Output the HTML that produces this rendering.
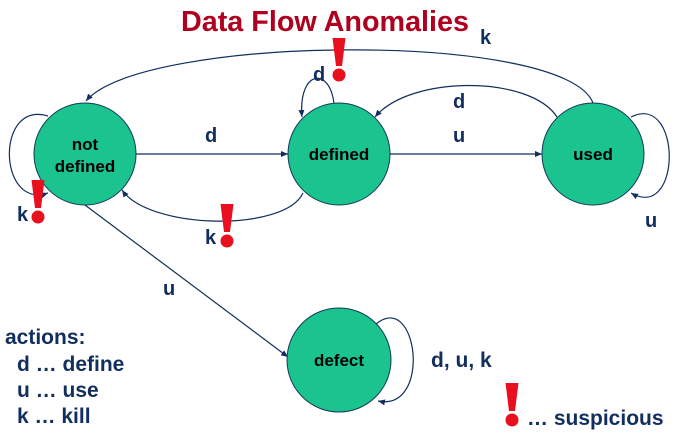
<!DOCTYPE html>
<html><head><meta charset="utf-8"><style>
body{margin:0;width:681px;height:439px;background:#fff;overflow:hidden}
svg{display:block}
.l{font-family:"Liberation Sans",sans-serif;font-weight:bold;fill:#112e5e;font-size:20px}
.g{font-family:"Liberation Sans",sans-serif;font-weight:bold;fill:#112e5e;font-size:21px}
.n{font-family:"Liberation Sans",sans-serif;font-weight:bold;fill:#000;font-size:17px;text-anchor:middle}
</style></head><body>
<svg width="681" height="439" viewBox="0 0 681 439">
<defs>
<marker id="a" markerWidth="8" markerHeight="8" refX="7" refY="4" orient="auto" markerUnits="userSpaceOnUse">
<path d="M0,1 L7,4 L0,7 Z" fill="#112e5e"/></marker>
<g id="ex"><path d="M-6.5,0 L6.5,0 L3,28 L-3,28 Z" fill="#e8101e"/><circle cx="0" cy="37" r="6.5" fill="#e8101e"/></g>
</defs>
<text x="325" y="31" text-anchor="middle" textLength="288" lengthAdjust="spacingAndGlyphs" style="font-family:'Liberation Sans',sans-serif;font-weight:bold;font-size:29px;fill:#b00020">Data Flow Anomalies</text>
<g fill="none" stroke="#112e5e" stroke-width="1.2">
<path d="M136,154 L288,154" marker-end="url(#a)"/>
<path d="M390,154 L542,154" marker-end="url(#a)"/>
<path d="M593,103 C565,30 140,35 86,101" marker-end="url(#a)"/>
<path d="M557,117 C530,75 410,75 375,117" marker-end="url(#a)"/>
<path d="M334,104 C330,66 298,70 302,117" marker-end="url(#a)"/>
<path d="M303,193 C285,232 150,230 122,190" marker-end="url(#a)"/>
<path d="M48,116 C-5,100 -2,210 48,193" marker-end="url(#a)"/>
<path d="M631,117 C682,92 682,222 631,193" marker-end="url(#a)"/>
<path d="M85,205 L288,357" marker-end="url(#a)"/>
<path d="M376,324 C418,290 432,412 378,401" marker-end="url(#a)"/>
</g>
<g fill="#1bc38e" stroke="#123a5a" stroke-width="1">
<circle cx="85" cy="154" r="51"/><circle cx="339" cy="154" r="51"/>
<circle cx="593" cy="154" r="51"/><circle cx="339" cy="360" r="52"/>
</g>
<text class="n" x="85" y="150">not</text><text class="n" x="85" y="172">defined</text>
<text class="n" x="339" y="160">defined</text>
<text class="n" x="593" y="160">used</text>
<text class="n" x="339" y="366">defect</text>
<text class="l" x="205" y="142">d</text>
<text class="l" x="453" y="142">u</text>
<text class="l" x="453" y="108">d</text>
<text class="l" x="480" y="44">k</text>
<text class="l" x="313" y="81">d</text>
<text class="l" x="645" y="227">u</text>
<text class="l" x="17" y="221">k</text>
<text class="l" x="205" y="244">k</text>
<text class="l" x="163" y="295">u</text>
<text class="g" x="431" y="367">d, u, k</text>
<text class="g" x="5" y="344">actions:</text>
<text class="g" x="17" y="371">d … define</text>
<text class="g" x="17" y="397">u … use</text>
<text class="g" x="17" y="423">k … kill</text>
<text class="g" x="527" y="425">… suspicious</text>
<use href="#ex" x="339" y="38"/>
<use href="#ex" x="38" y="180"/>
<use href="#ex" x="227" y="204"/>
<use href="#ex" x="512" y="383"/>
</svg>
</body></html>
